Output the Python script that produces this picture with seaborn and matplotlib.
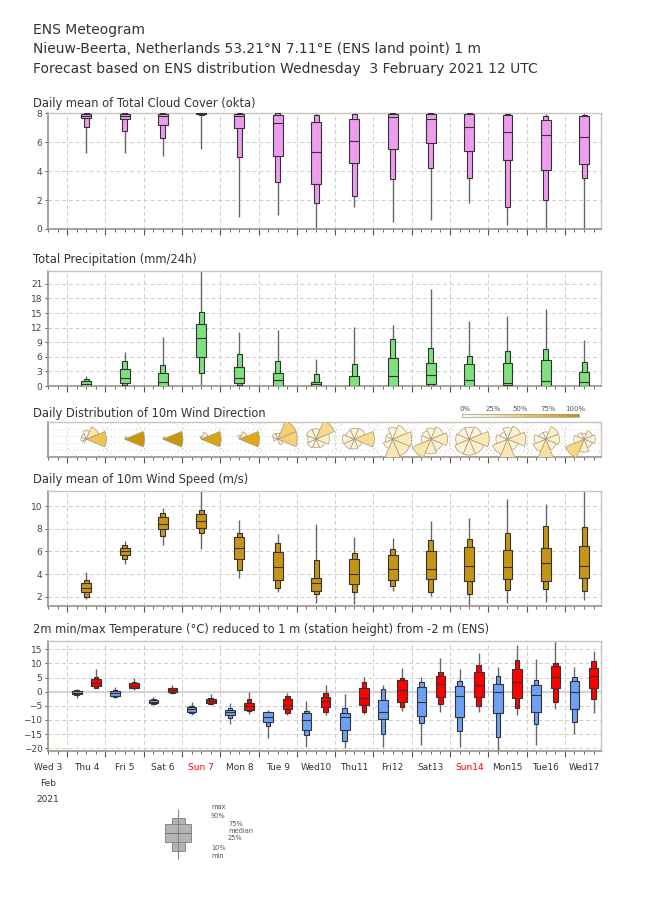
import numpy as np
import matplotlib
matplotlib.use('Agg')
import matplotlib.pyplot as plt
import seaborn as sns
from matplotlib.patches import Wedge, Circle
from matplotlib.colors import LinearSegmentedColormap

sns.set_style('ticks')
plt.rcParams['font.family'] = ['DejaVu Sans']

# ---- data ----
day_labels = ['Wed 3', 'Thu 4', 'Fri 5', 'Sat 6', 'Sun 7', 'Mon 8', 'Tue 9', 'Wed10',
              'Thu11', 'Fri12', 'Sat13', 'Sun14', 'Mon15', 'Tue16', 'Wed17']
box_days = np.arange(1, 15)

cloud_min = [5.25, 5.25, 5.05, 5.5, 0.8, 1.0, 0.0, 1.5, 0.5, 0.65, 1.8, 0.25, 0.0, 0.0]
cloud_p10 = [7.03, 6.8, 6.3, 7.9, 4.98, 3.23, 1.82, 2.28, 3.43, 4.22, 3.5, 1.54, 2.03, 3.53]
cloud_p25 = [7.65, 7.6, 7.17, 7.95, 6.96, 5.05, 3.13, 4.59, 5.53, 5.92, 5.39, 4.75, 4.1, 4.52]
cloud_med = [7.78, 7.79, 7.79, 7.98, 7.8, 7.3, 5.3, 6.06, 7.72, 7.58, 7.07, 6.68, 6.47, 6.34]
cloud_p75 = [7.95, 7.95, 7.95, 8.0, 7.95, 7.88, 7.37, 7.6, 7.95, 7.95, 7.95, 7.9, 7.53, 7.83]
cloud_p90 = [8.0, 8.0, 8.0, 8.0, 8.0, 8.0, 7.88, 7.93, 8.0, 8.0, 8.0, 7.95, 7.83, 7.9]
cloud_max = [8.0, 8.0, 8.0, 8.0, 8.0, 8.0, 8.0, 8.0, 8.0, 8.0, 8.0, 8.0, 7.95, 8.0]

pr_min = [0, 0, 0, 0.2, 0, 0, 0, 0, 0, 0, 0, 0, 0, 0]
pr_p10 = [0, 0.14, 0, 2.6, 0.2, 0, 0, 0, 0, 0, 0, 0, 0, 0]
pr_p25 = [0.07, 0.55, 0.07, 6.04, 0.55, 0.07, 0.07, 0.07, 0.07, 0.34, 0.07, 0.14, 0.07, 0.07]
pr_med = [0.5, 1.72, 0.9, 9.88, 1.65, 1.17, 0.35, 0.1, 2.0, 2.26, 1.17, 0.69, 0.96, 0.75]
pr_p75 = [1.03, 3.57, 2.6, 12.7, 3.98, 2.6, 0.82, 2.0, 5.7, 4.67, 4.6, 4.8, 5.42, 2.95]
pr_p90 = [1.45, 5.2, 4.39, 15.3, 6.66, 5.08, 2.47, 4.53, 9.6, 7.76, 6.1, 7.28, 7.55, 4.87]
pr_max = [2.0, 6.93, 10.1, 26.0, 11.0, 11.5, 5.5, 12.08, 12.56, 19.9, 13.45, 14.4, 15.85, 9.4]

ws_min = [1.8, 4.93, 6.57, 6.22, 3.64, 2.47, 1.44, 1.36, 2.53, 2.09, 1.0, 1.5, 1.53, 1.74]
ws_p10 = [2.03, 5.31, 7.39, 7.63, 4.37, 2.79, 2.23, 2.41, 3.0, 2.47, 2.23, 2.62, 2.67, 2.5]
ws_p25 = [2.41, 5.72, 7.98, 8.04, 5.31, 3.49, 2.56, 3.11, 3.49, 3.55, 3.38, 3.55, 3.44, 3.64]
ws_med = [2.76, 6.04, 8.45, 8.68, 6.28, 4.61, 3.2, 3.99, 4.49, 4.43, 4.75, 4.61, 4.96, 4.7]
ws_p75 = [3.26, 6.34, 9.0, 9.27, 7.25, 5.99, 3.64, 5.31, 5.69, 6.01, 6.42, 6.1, 6.28, 6.45]
ws_p90 = [3.49, 6.6, 9.41, 9.65, 7.6, 6.72, 5.25, 5.84, 6.19, 6.98, 7.1, 7.6, 8.21, 8.12]
ws_max = [4.23, 6.92, 9.85, 11.6, 8.77, 7.51, 8.42, 7.25, 7.16, 8.68, 8.92, 10.62, 10.18, 11.6]

tn_min = [-2.1, -2.3, -4.8, -8.2, -11.5, -16.5, -19.4, -20.0, -19.4, -18.8, -19.6, -20.8, -19.0, -14.8]
tn_p10 = [-1.1, -1.73, -4.3, -7.5, -9.4, -12.0, -15.3, -17.6, -15.0, -11.2, -13.75, -16.1, -11.5, -10.8]
tn_p25 = [-0.7, -1.38, -4.1, -7.04, -8.33, -10.8, -13.6, -13.5, -9.75, -8.57, -8.8, -7.4, -7.27, -6.1]
tn_med = [-0.3, -0.55, -3.5, -6.1, -7.27, -8.8, -10.1, -8.8, -7.15, -3.74, -1.6, -0.2, -1.26, -0.2]
tn_p75 = [0.2, 0.27, -2.9, -5.27, -6.45, -7.27, -7.6, -7.7, -3.0, 1.57, 2.04, 2.74, 2.27, 3.7]
tn_p90 = [0.5, 0.6, -2.56, -4.9, -5.86, -7.04, -6.8, -5.6, 0.98, 3.57, 3.9, 5.7, 4.16, 5.1]
tn_max = [1.0, 1.8, -1.85, -3.5, -4.1, -6.45, -3.27, -0.9, 2.4, 5.34, 7.93, 8.6, 11.5, 8.6]

tx_min = [1.2, 0.6, -0.9, -4.7, -8.0, -8.2, -8.2, -8.0, -7.0, -7.04, -7.27, -8.2, -6.2, -7.4]
tx_p10 = [1.45, 1.2, -0.55, -4.44, -6.8, -7.4, -7.04, -7.04, -5.27, -4.44, -5.0, -5.86, -3.74, -2.44]
tx_p25 = [2.16, 1.45, -0.2, -3.97, -6.33, -6.1, -5.27, -4.7, -3.74, -1.97, -1.97, -2.3, 1.45, 1.2]
tx_med = [3.2, 2.16, 0.5, -3.15, -4.9, -4.7, -3.27, -2.1, 0.6, 2.63, 2.27, 3.33, 5.1, 5.57]
tx_p75 = [4.39, 2.98, 1.2, -2.44, -3.85, -2.68, -1.85, 1.45, 4.16, 5.57, 6.98, 7.9, 9.1, 8.5]
tx_p90 = [5.34, 3.45, 1.45, -2.1, -2.68, -1.4, -0.55, 3.33, 5.0, 7.1, 9.46, 11.2, 10.3, 10.76]
tx_max = [7.93, 4.75, 2.4, -0.8, 0.0, -0.3, 2.4, 5.1, 8.3, 11.8, 13.8, 16.5, 19.0, 14.4]

# wind direction frequency (%) per sector: N, NE, E, SE, S, SW, W, NW
sector_names = ['N', 'NE', 'E', 'SE', 'S', 'SW', 'W', 'NW']
wd_freq = [
    [10, 25, 55, 0, 0, 2, 4, 4],
    [0, 2, 98, 0, 0, 0, 0, 0],
    [0, 2, 98, 0, 0, 0, 0, 0],
    [2, 12, 86, 0, 0, 0, 0, 0],
    [3, 14, 83, 0, 0, 0, 0, 0],
    [4, 44, 42, 4, 0, 0, 2, 4],
    [10, 36, 16, 8, 6, 8, 6, 10],
    [10, 12, 34, 6, 8, 10, 12, 8],
    [8, 14, 22, 20, 24, 6, 3, 3],
    [8, 12, 18, 10, 14, 26, 6, 6],
    [8, 10, 22, 14, 14, 14, 10, 8],
    [8, 12, 20, 8, 24, 16, 8, 4],
    [4, 14, 14, 10, 30, 14, 10, 4],
    [3, 8, 12, 8, 16, 38, 10, 5],
]
sector_angle = [90, 45, 0, -45, -90, -135, 180, 135]  # matplotlib angle of each sector centre

legend_vals = [0.0, 0.16, 0.34, 0.52, 0.70, 0.82, 1.0]  # min, 10, 25, median, 75, 90, max
pct_labels = ['0%', '25%', '50%', '75%', '100%']

# ---- figure layout ----
FW, FH = 650, 916
fig = plt.figure(figsize=(FW / 100, FH / 100), dpi=100)
X0, X1 = 48, 601
PPD = 38.29                      # pixels per day
XMAX = (X1 - X0) / PPD
TXT = '#333333'
SPINE_D = '#9a9484'
SPINE_L = '#cbc5b8'
GRID = '#cccccc'


def add_ax(top, bot):
    return fig.add_axes([X0 / FW, 1 - bot / FH, (X1 - X0) / FW, (bot - top) / FH])


def style(ax, ylim, yticks):
    ax.set_xlim(0, XMAX)
    ax.set_ylim(*ylim)
    ax.set_yticks(yticks)
    ax.set_xticks(np.arange(0.5, XMAX, 1))
    ax.set_xticks(np.arange(0, XMAX, 0.25), minor=True)
    ax.set_xticklabels([])
    ax.grid(axis='y', ls=(0, (4, 3)), color=GRID, lw=0.7)
    ax.grid(axis='x', which='major', ls=(0, (4, 3)), color=GRID, lw=0.7)
    ax.set_axisbelow(True)
    for s in ['left', 'bottom']:
        ax.spines[s].set_color(SPINE_D)
        ax.spines[s].set_linewidth(1.2)
    for s in ['top', 'right']:
        ax.spines[s].set_visible(True)
        ax.spines[s].set_color(SPINE_L)
        ax.spines[s].set_linewidth(1.0)
    ax.tick_params(axis='x', which='major', length=4.5, width=0.8, color='#555555')
    ax.tick_params(axis='x', which='minor', length=2.5, width=0.6, color='#555555')
    ax.tick_params(axis='y', length=2.5, width=0.7, color='#555555', labelsize=6.5,
                   labelcolor='#444444', pad=1.5)


def boxes(ax, x, mn, p10, p25, med, p75, p90, mx, color, wide=0.26, narrow=0.13):
    x = np.asarray(x, dtype=float)
    ax.vlines(x, mn, mx, color='#666666', lw=1.0, zorder=2)
    ax.bar(x, np.subtract(p90, p10), bottom=p10, width=narrow, color=color,
           edgecolor='#333333', linewidth=0.8, zorder=3)
    ax.bar(x, np.subtract(p75, p25), bottom=p25, width=wide, color=color,
           edgecolor='#333333', linewidth=0.8, zorder=4)
    ax.hlines(med, x - wide / 2, x + wide / 2, color='#333333', lw=0.8, zorder=5)


def title(y, s, size=8.3):
    fig.text(33 / FW, 1 - y / FH, s, fontsize=size, color=TXT, va='center', ha='left')


# header
title(30, 'ENS Meteogram', 10)
title(49, 'Nieuw-Beerta, Netherlands 53.21°N 7.11°E (ENS land point) 1 m', 10)
title(69, 'Forecast based on ENS distribution Wednesday  3 February 2021 12 UTC', 10)

# cloud cover
ax_c = add_ax(113.3, 229)
style(ax_c, (0, 8), [0, 2, 4, 6, 8])
boxes(ax_c, box_days, cloud_min, cloud_p10, cloud_p25, cloud_med, cloud_p75, cloud_p90,
      cloud_max, '#ee9cee')
title(103, 'Daily mean of Total Cloud Cover (okta)')

# precipitation
ax_p = add_ax(270.7, 386)
style(ax_p, (0, 23.7), np.arange(0, 22, 3))
boxes(ax_p, box_days, pr_min, pr_p10, pr_p25, pr_med, pr_p75, pr_p90, pr_max, '#7ee07e')
title(259, 'Total Precipitation (mm/24h)')

# wind direction roses
wd_top, wd_bot = 421.7, 456.7
ax_d = add_ax(wd_top, wd_bot)
half = (wd_bot - wd_top) / 2 / PPD
style(ax_d, (-half, half), [])
ax_d.grid(False)
R = 20 / PPD
for yy in np.linspace(-half, half, 6)[1:-1]:
    ax_d.axhline(yy, color='#bbbbbb', ls=(0, (1, 4)), lw=0.6, zorder=0)
for xx in np.arange(0.5, XMAX, 1):
    ax_d.axvline(xx, color='#bbbbbb', ls=(0, (1, 4)), lw=0.6, zorder=0)
wd_cmap = LinearSegmentedColormap.from_list(
    'wd', [(0, '#fffcf3'), (0.25, '#fae6ae'), (0.5, '#f2c95e'),
           (0.8, '#e4ac1c'), (1.0, '#c4920c')])
for d, freq in zip(box_days, wd_freq):
    ax_d.add_patch(Circle((d, 0), R, fill=False, ec='#bbbbbb', ls=(0, (1, 3)), lw=0.6, zorder=1))
    fmax = max(freq)
    for f, a in zip(freq, sector_angle):
        if f <= 0:
            continue
        r = R * np.sqrt(f / fmax)
        ax_d.add_patch(Wedge((d, 0), r, a - 22.5, a + 22.5, facecolor=wd_cmap(f / 100),
                             edgecolor='#a89878', lw=0.5, zorder=3))
title(413, 'Daily Distribution of 10m Wind Direction')

# colour legend for wind direction
ax_cb = fig.add_axes([462 / FW, 1 - 417.3 / FH, 117 / FW, 3 / FH])
ax_cb.imshow(np.linspace(0, 1, 256)[None, :], aspect='auto', cmap=wd_cmap)
ax_cb.set_xticks([])
ax_cb.set_yticks([])
for s in ax_cb.spines.values():
    s.set_color('#999999')
    s.set_linewidth(0.5)
for i, lab in enumerate(pct_labels):
    fig.text((462 + 117 * (0.03 + 0.235 * i)) / FW, 1 - 409 / FH, lab, fontsize=5,
             color='#555555', ha='center', va='center')

# wind speed
ax_w = add_ax(490.7, 606)
style(ax_w, (1.2, 11.35), [2, 4, 6, 8, 10])
boxes(ax_w, box_days, ws_min, ws_p10, ws_p25, ws_med, ws_p75, ws_p90, ws_max, '#c69515')
title(479, 'Daily mean of 10m Wind Speed (m/s)')

# temperature
ax_t = add_ax(641, 750.7)
style(ax_t, (-20.85, 17.9), np.arange(-20, 16, 5))
ax_t.axhline(0, color='#d4d4d4', lw=1.6, zorder=1)
boxes(ax_t, box_days - 0.25, tn_min, tn_p10, tn_p25, tn_med, tn_p75, tn_p90, tn_max,
      '#6fa0f8', wide=0.25, narrow=0.12)
boxes(ax_t, box_days + 0.25, tx_min, tx_p10, tx_p25, tx_med, tx_p75, tx_p90, tx_max,
      '#ff0000', wide=0.25, narrow=0.12)
title(630, '2m min/max Temperature (°C) reduced to 1 m (station height) from -2 m (ENS)')

sec = ax_t.secondary_xaxis('bottom')
sec.set_xticks(np.arange(len(day_labels)), labels=day_labels)
sec.tick_params(length=0, pad=9, labelsize=6.5, labelcolor=TXT)
sec.spines['bottom'].set_visible(False)
for lbl in sec.get_xticklabels():
    if lbl.get_text().startswith('Sun'):
        lbl.set_color('red')
fig.text(X0 / FW, 1 - 783 / FH, 'Feb', fontsize=6.5, color=TXT, ha='center', va='center')
fig.text(X0 / FW, 1 - 799 / FH, '2021', fontsize=6.5, color=TXT, ha='center', va='center')

# box legend
ax_l = fig.add_axes([150 / FW, 1 - 862 / FH, 120 / FW, 58 / FH])
ax_l.set_xlim(0, 120)
ax_l.set_ylim(-0.07, 1.09)
ax_l.axis('off')
lmin, l10, l25, lmed, l75, l90, lmax = legend_vals
ax_l.vlines(28, lmin, lmax, color='#888888', lw=0.8)
ax_l.bar(28, l90 - l10, bottom=l10, width=13, color='#b4b4b4', edgecolor='#888888', lw=0.7)
ax_l.bar(28, l75 - l25, bottom=l25, width=26, color='#b4b4b4', edgecolor='#888888', lw=0.7)
ax_l.hlines(lmed, 15, 41, color='#777777', lw=0.7)
for txt, xx, yy in [('max', 61, 1.03), ('90%', 61, 0.85), ('75%', 78, 0.7), ('median', 78, 0.55),
                    ('25%', 78, 0.4), ('10%', 61, 0.22), ('min', 61, 0.04)]:
    ax_l.text(xx, yy, txt, fontsize=4.8, color='#555555', ha='left', va='center')

fig.savefig('out.png', dpi=100)
